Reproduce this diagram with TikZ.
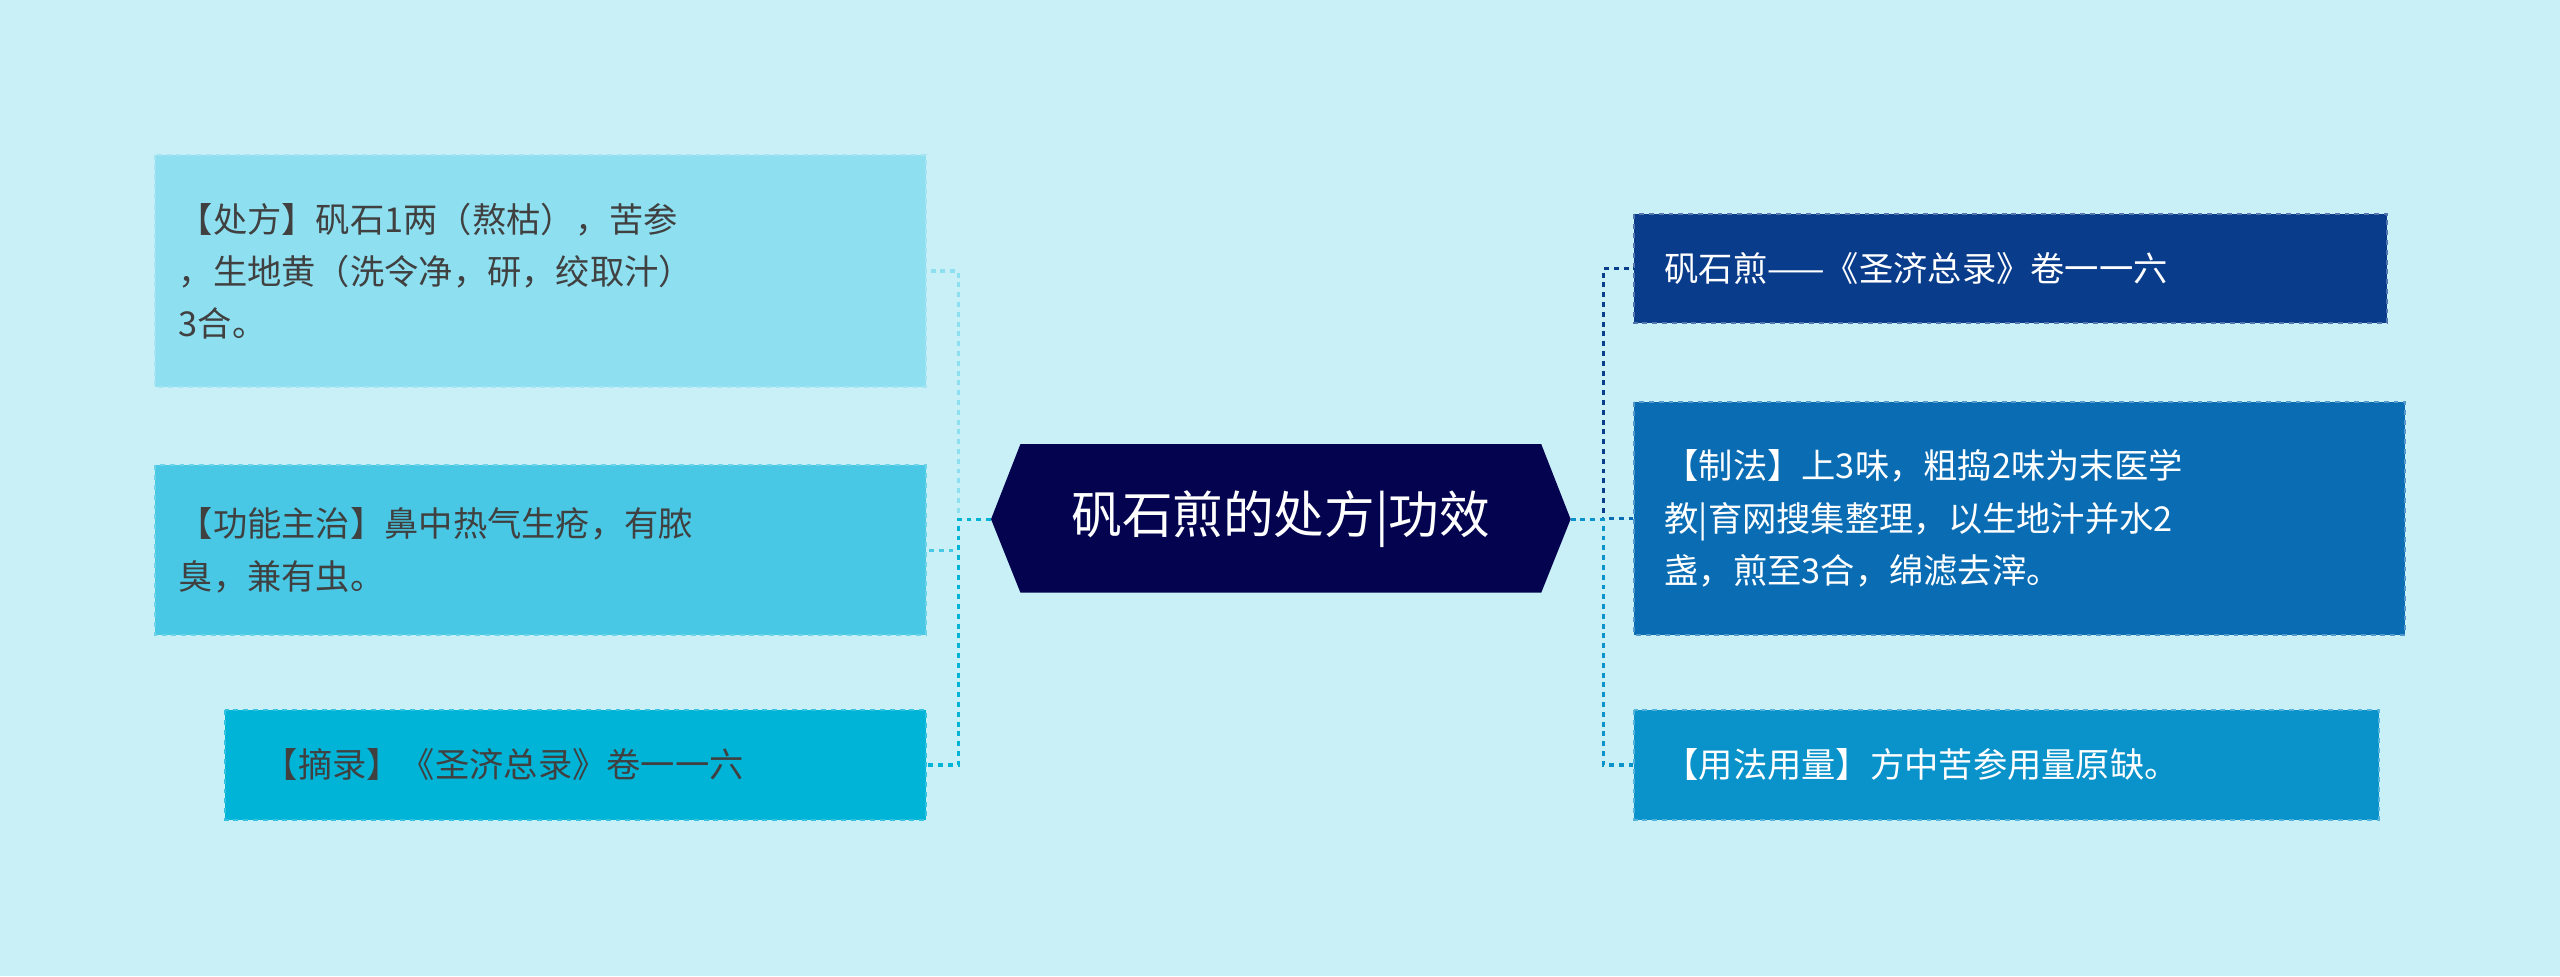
\documentclass[tikz,border=0pt]{standalone}
\usepackage{fontspec}
\setmainfont{Noto Sans CJK SC}
\usetikzlibrary{shapes.geometric}
\definecolor{bg}{HTML}{C9EFF7}
\definecolor{lA}{HTML}{8EDFF0}
\definecolor{lB}{HTML}{48C8E4}
\definecolor{lC}{HTML}{00B4D8}
\definecolor{rA}{HTML}{0A3C8C}
\definecolor{rB}{HTML}{0A6DB4}
\definecolor{rC}{HTML}{0A92CA}
\definecolor{hub}{HTML}{03034F}
\begin{document}
\begin{tikzpicture}[x=1pt,y=-1pt,
  box/.style={anchor=north west,inner sep=0pt,draw,dashed,line width=1.2pt},
  ltxt/.style={anchor=west,align=left,font=\fontsize{21}{32}\selectfont,text=black!75},
  rtxt/.style={anchor=west,align=left,font=\fontsize{21}{32}\selectfont,text=white},
  con/.style={dashed,line width=2pt}]
\fill[bg] (0,0) rectangle (1568,598);
\useasboundingbox (0,0) rectangle (1568,598);
% hub
\fill[hub] (607,318) -- (625,272) -- (944,272) -- (962,318) -- (944,363) -- (625,363) -- cycle;
\node[font=\fontsize{31}{36}\selectfont,text=white] (hub) at (784.5,318) {矾石煎的处方|功效};
\coordinate (hl) at (607,318);
\coordinate (hr) at (962,318);
% left boxes
\path[fill=lA,draw=lA!80!white,dashed,line width=1.2pt] (95,95) rectangle (567,237);
\node[ltxt] (l1) at (106,166) {【处方】矾石1两（熬枯），苦参\\，生地黄（洗令净，研，绞取汁）\\3合。};
\path[fill=lB,draw=lB!80!white,dashed,line width=1.2pt] (95,285) rectangle (567,389);
\node[ltxt] (l2) at (106,337) {【功能主治】鼻中热气生疮，有脓\\臭，兼有虫。};
\path[fill=lC,draw=lC!80!white,dashed,line width=1.2pt] (138,435) rectangle (567,502);
\node[ltxt] (l3) at (158,468.5) {【摘录】《圣济总录》卷一一六};
% right boxes
\path[fill=rA,draw=rA!70!white,dashed,line width=1.2pt] (1001,131) rectangle (1462,198);
\node[rtxt] (r1) at (1016,164.5) {矾石煎——《圣济总录》卷一一六};
\path[fill=rB,draw=rB!70!white,dashed,line width=1.2pt] (1001,246) rectangle (1473,389);
\node[rtxt] (r2) at (1016,317.5) {【制法】上3味，粗捣2味为末医学\\教|育网搜集整理，以生地汁并水2\\盏，煎至3合，绵滤去滓。};
\path[fill=rC,draw=rC!70!white,dashed,line width=1.2pt] (1001,435) rectangle (1457,502);
\node[rtxt] (r3) at (1016,468.5) {【用法用量】方中苦参用量原缺。};
% connectors
\coordinate (la) at (567,166); \coordinate (lb) at (567,337); \coordinate (lc) at (567,468.5);
\coordinate (ra) at (1001,164.5); \coordinate (rb) at (1001,317.5); \coordinate (rc) at (1001,468.5);
\draw[con,draw=lA] (hl) -- ++(-20,0) |- (la);
\draw[con,draw=lB] (hl) -- ++(-20,0) |- (lb);
\draw[con,draw=lC] (hl) -- ++(-20,0) |- (lc);
\draw[con,draw=rA] (hr) -- ++(20,0) |- (ra);
\draw[con,draw=rB] (hr) -- ++(20,0) |- (rb);
\draw[con,draw=rC] (hr) -- ++(20,0) |- (rc);
\end{tikzpicture}
\end{document}
